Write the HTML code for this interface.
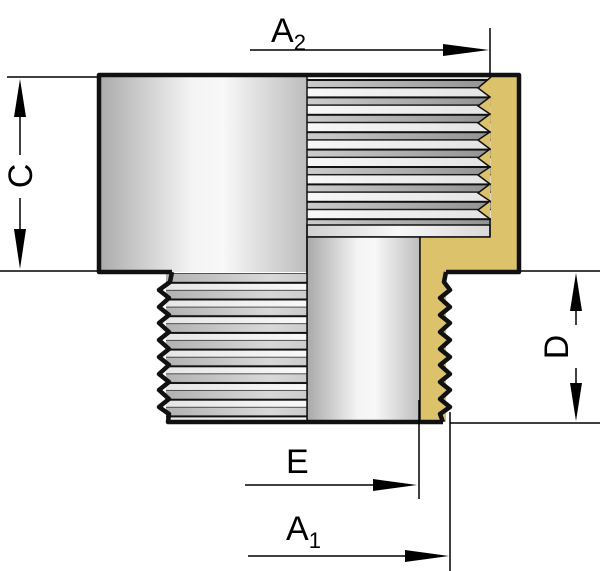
<!DOCTYPE html>
<html><head><meta charset="utf-8"><style>
html,body{margin:0;padding:0;background:#fff;width:600px;height:571px;overflow:hidden}
svg{display:block}
text{font-family:"Liberation Sans",sans-serif;fill:#000}
</style></head><body>
<svg width="600" height="571" viewBox="0 0 600 571" xmlns="http://www.w3.org/2000/svg">
<defs>
<linearGradient id="cyl" x1="0" x2="1" y1="0" y2="0">
<stop offset="0" stop-color="#a9a9a9"/><stop offset="0.45" stop-color="#f4f4f4"/><stop offset="0.6" stop-color="#f8f8f8"/><stop offset="1" stop-color="#bdbdbd"/></linearGradient>
<linearGradient id="lt" x1="0" x2="1"><stop offset="0" stop-color="#d0d0d0"/><stop offset="0.5" stop-color="#f8f8f8"/><stop offset="1" stop-color="#d8d8d8"/></linearGradient>
<linearGradient id="dk" x1="0" x2="1"><stop offset="0" stop-color="#777"/><stop offset="0.45" stop-color="#d8d8d8"/><stop offset="1" stop-color="#707070"/></linearGradient>
<pattern id="thr" x="0" y="79" width="600" height="17.4" patternUnits="userSpaceOnUse">
<rect x="0" y="0" width="600" height="8.7" fill="url(#dk)"/><rect x="0" y="8.7" width="600" height="8.7" fill="url(#lt)"/>
<rect x="0" y="0" width="600" height="2" fill="#111"/><rect x="0" y="8" width="600" height="1.4" fill="#111"/>
</pattern>
<pattern id="thr2" x="0" y="274" width="600" height="16.7" patternUnits="userSpaceOnUse">
<rect x="0" y="0" width="600" height="8.4" fill="url(#dk)"/><rect x="0" y="8.4" width="600" height="8.3" fill="url(#lt)"/>
<rect x="0" y="7.8" width="600" height="2" fill="#111"/><rect x="0" y="16" width="600" height="1.4" fill="#111"/>
</pattern>
</defs>

<rect x="97" y="75" width="422" height="197" fill="#dcc26a"/>
<rect x="97" y="75" width="210" height="197" fill="url(#cyl)"/>
<rect x="307" y="77" width="184" height="148" fill="url(#thr)"/>
<rect x="307" y="225" width="183" height="12" fill="url(#lt)" stroke="#111" stroke-width="1.5"/>
<polyline fill="#dcc26a" stroke="#111" stroke-width="1.5" points="491,77 478,88 490,97 478,106 490,114 478,123 490,132 478,140 490,149 478,158 490,167 478,175 490,184 478,193 490,201 478,210 490,219 490,237"/>
<rect x="307" y="237" width="113" height="185" fill="url(#cyl)" stroke="#111" stroke-width="1.5"/>
<polygon fill="#dcc26a" points="420,237 490,237 490,272 446,272 446,422 420,422"/>
<line x1="420" y1="237" x2="490" y2="237" stroke="#111" stroke-width="1.5"/>
<line x1="420" y1="237" x2="420" y2="422" stroke="#111" stroke-width="1.5"/>
<rect x="166" y="273" width="141" height="148" fill="url(#thr2)"/>
<line x1="307" y1="75" x2="307" y2="422" stroke="#111" stroke-width="1.5"/>
<path d="M172,272 H99 V75 H519 V272 H446" fill="none" stroke="#111" stroke-width="4.5" stroke-linejoin="round"/>
<polyline fill="none" stroke="#111" stroke-width="4.5" stroke-linejoin="round" points="172,272 170,282 159,290 169,298 159,307 169,315 159,323 169,332 159,340 169,349 159,357 169,365 159,374 169,382 159,390 169,399 159,407 169,414 168,422 443,422"/>
<polyline fill="none" stroke="#111" stroke-width="4.5" stroke-linejoin="round" points="446,272 444,282 450,290 440,298 450,307 440,315 450,323 440,332 450,340 440,349 450,357 440,365 450,374 440,382 450,390 440,399 450,407 440,414 443,422"/>

<g stroke="#000" stroke-width="1.5" fill="none">
<line x1="490" y1="28" x2="490" y2="73"/>
<line x1="250" y1="50" x2="470" y2="50"/>
<line x1="7" y1="77" x2="97" y2="77"/>
<line x1="0" y1="271" x2="97" y2="271"/>
<line x1="20" y1="100" x2="20" y2="155"/>
<line x1="20" y1="198" x2="20" y2="250"/>
<line x1="521" y1="271" x2="600" y2="271"/>
<line x1="450" y1="423" x2="600" y2="423"/>
<line x1="576" y1="290" x2="576" y2="325"/>
<line x1="576" y1="368" x2="576" y2="405"/>
<line x1="419" y1="400" x2="419" y2="499"/>
<line x1="450" y1="412" x2="450" y2="571"/>
<line x1="245" y1="485" x2="400" y2="485"/>
<line x1="248" y1="556" x2="432" y2="556"/>
</g>
<g fill="#000">
<polygon points="489,50 443,44 443,56"/>
<polygon points="20,79 14,117 26,117"/>
<polygon points="20,269 14,229 26,229"/>
<polygon points="576,273 570,311 582,311"/>
<polygon points="576,421 570,383 582,383"/>
<polygon points="417,485 373,479 373,491"/>
<polygon points="449,556 405,550 405,562"/>
</g>
<text x="271" y="42" font-size="34">A<tspan font-size="22" dy="8">2</tspan></text>
<text x="286" y="473" font-size="34">E</text>
<text x="286" y="540" font-size="34">A<tspan font-size="22" dy="8">1</tspan></text>
<text transform="translate(32,176) rotate(-90)" font-size="34" text-anchor="middle">C</text>
<text transform="translate(568,347) rotate(-90)" font-size="34" text-anchor="middle">D</text>
</svg>
</body></html>
